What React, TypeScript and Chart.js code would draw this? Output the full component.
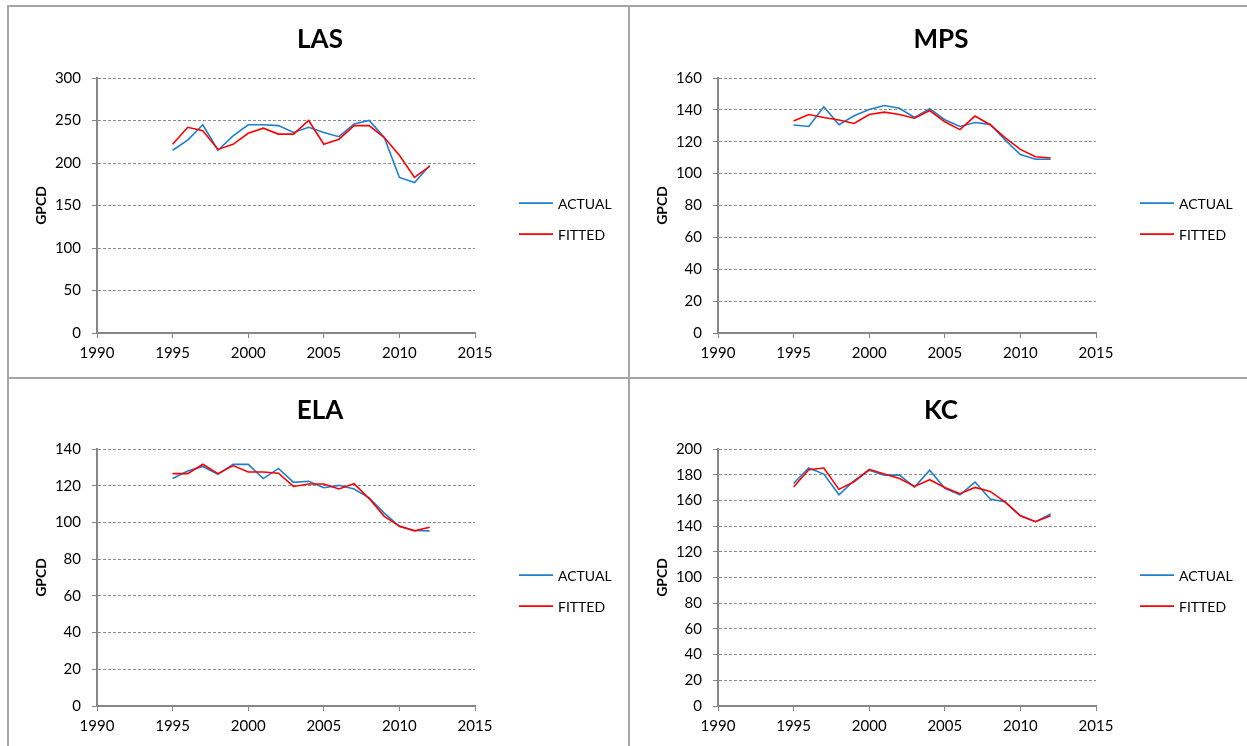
import React, { useEffect, useRef } from "react";
import { Chart, registerables } from "chart.js";

Chart.register(...registerables);

// Years observed in every panel
const YEARS = [1995, 1996, 1997, 1998, 1999, 2000, 2001, 2002, 2003, 2004, 2005, 2006, 2007, 2008, 2009, 2010, 2011, 2012];

// Gallons per capita per day, actual vs. fitted
const LAS_ACTUAL = [215, 227, 245, 215, 232, 245, 245, 244, 236, 242, 236, 231, 246, 250, 230, 183, 177, 197];
const LAS_FITTED = [222, 242, 238, 216, 222, 235, 241, 234, 234, 250, 222, 228, 244, 244, 230, 209, 183, 196];

const MPS_ACTUAL = [130.5, 129.6, 141.9, 130.7, 136.3, 140.2, 142.7, 141, 135.2, 140.8, 133.8, 129.6, 132.1, 130.9, 121, 112, 109, 109];
const MPS_FITTED = [133, 137.1, 135.2, 133.6, 131.5, 137.1, 138.6, 137.1, 134.8, 139.6, 132.5, 127.6, 136.1, 130.7, 122.4, 115.2, 110.6, 109.8];

const ELA_ACTUAL = [123.9, 128, 130.5, 126.2, 131.6, 131.6, 123.9, 129.4, 121.8, 122.4, 118.9, 120.2, 118.2, 113.4, 105.1, 97.8, 95.6, 95.4];
const ELA_FITTED = [126.6, 126.6, 131.7, 126.6, 131, 127.5, 127.5, 126.8, 119.6, 120.9, 120.9, 118.2, 121.1, 113, 103.3, 98, 95.4, 97.4];

const KC_ACTUAL = [173.2, 185.2, 180.5, 164.4, 175.3, 183.4, 179.7, 179.7, 170.4, 183.4, 169.4, 164.4, 174.3, 161, 158.7, 148, 143.4, 149.4];
const KC_FITTED = [170.4, 183.9, 185.2, 168.6, 174.5, 184.2, 180.5, 177.1, 170.9, 176.1, 170.1, 165.2, 170.1, 167, 158.7, 148, 143.4, 148];

const X_MIN = 1990;
const X_MAX = 2015;
const X_STEP = 5;

const FONT = "Lato, 'Open Sans', sans-serif";
const BLUE = "#1F7FCE";
const RED = "#FF0000";
const AXIS = "#878787";
const GRID = "#8C8C8C";
const FRAME = "#A6A6A6";

const CANVAS_W = 620;
const CANVAS_H = 372;
const PLOT_LEFT = 89;
const PLOT_RIGHT = 467;

type PanelProps = {
  title: string;
  actual: number[];
  fitted: number[];
  yMax: number;
  yStep: number;
  left: number;
  top: number;
  plotTop: number;
  plotBottom: number;
};

function Panel({ title, actual, fitted, yMax, yStep, left, top, plotTop, plotBottom }: PanelProps) {
  const ref = useRef<HTMLCanvasElement>(null);

  useEffect(() => {
    if (!ref.current) return;
    const toPoints = (vals: number[]) => YEARS.map((x, i) => ({ x, y: vals[i] }));

    // Panel heading and the series key to the right of the plot
    const panelText = {
      id: "panelText",
      afterDraw(chart: any) {
        const { ctx, chartArea } = chart;
        ctx.save();
        ctx.fillStyle = "#000";
        ctx.font = `bold 26px ${FONT}`;
        ctx.textAlign = "center";
        ctx.textBaseline = "middle";
        ctx.fillText(title, chart.width / 2 + 2, chartArea.top - 38);

        const cy = (chartArea.top + chartArea.bottom) / 2;
        chart.data.datasets.forEach((ds: any, i: number) => {
          const y = Math.round(cy - 3 + i * 31);
          ctx.strokeStyle = ds.borderColor;
          ctx.lineWidth = 1.75;
          ctx.beginPath();
          ctx.moveTo(chartArea.right + 44, y);
          ctx.lineTo(chartArea.right + 78, y);
          ctx.stroke();
          ctx.font = `14px ${FONT}`;
          ctx.textAlign = "left";
          ctx.fillStyle = "#000";
          ctx.fillText(ds.label, chartArea.right + 83, y + 1);
        });
        ctx.restore();
      },
    };

    const chart = new Chart(ref.current, {
      type: "line",
      data: {
        datasets: [
          {
            label: "ACTUAL",
            data: toPoints(actual),
            borderColor: BLUE,
            backgroundColor: BLUE,
            borderWidth: 1.6,
            pointRadius: 0,
            tension: 0,
            order: 1,
          },
          {
            label: "FITTED",
            data: toPoints(fitted),
            borderColor: RED,
            backgroundColor: RED,
            borderWidth: 1.6,
            pointRadius: 0,
            tension: 0,
            order: 0,
          },
        ],
      },
      options: {
        animation: false,
        responsive: false,
        devicePixelRatio: 1,
        layout: {
          padding: { top: plotTop, left: 0, right: CANVAS_W - PLOT_RIGHT, bottom: 0 },
        },
        plugins: {
          legend: { display: false },
          title: { display: false },
          tooltip: { enabled: false },
        },
        scales: {
          x: {
            type: "linear",
            position: "bottom",
            min: X_MIN,
            max: X_MAX,
            ticks: {
              stepSize: X_STEP,
              autoSkip: false,
              maxRotation: 0,
              color: "#000",
              padding: 6,
              font: { family: FONT, size: 15 },
              callback: (v: any) => String(v),
            },
            grid: {
              display: true,
              drawOnChartArea: false,
              drawTicks: true,
              tickLength: 5,
              tickColor: AXIS,
              tickWidth: 1,
            },
            border: { display: true, color: AXIS, width: 2 },
            afterFit: (scale: any) => {
              scale.height = CANVAS_H - plotBottom;
            },
          },
          y: {
            type: "linear",
            min: 0,
            max: yMax,
            ticks: {
              stepSize: yStep,
              color: "#000",
              padding: 11,
              font: { family: FONT, size: 15 },
            },
            grid: {
              color: (c: any) => (c.tick && c.tick.value === 0 ? "rgba(0,0,0,0)" : GRID),
              lineWidth: 1,
              drawTicks: true,
              tickLength: 5,
              tickColor: AXIS,
              tickWidth: 1,
              tickBorderDash: [],
            },
            border: { display: true, color: AXIS, width: 2, dash: [3, 2] },
            title: {
              display: true,
              text: "GPCD",
              color: "#000",
              font: { family: FONT, size: 14, weight: "bold" },
              padding: { top: 25, bottom: 0 },
            },
            afterFit: (scale: any) => {
              scale.width = PLOT_LEFT;
            },
          },
        },
      },
      plugins: [panelText],
    } as any);

    return () => chart.destroy();
  }, [title, actual, fitted, yMax, yStep, plotTop, plotBottom]);

  return (
    <canvas
      ref={ref}
      width={CANVAS_W}
      height={CANVAS_H}
      style={{ position: "absolute", left, top, width: CANVAS_W, height: CANVAS_H }}
    />
  );
}

export default function App() {
  const line = (style: React.CSSProperties) => (
    <div style={{ position: "absolute", background: FRAME, ...style }} />
  );
  return (
    <div
      style={{
        position: "fixed",
        left: 0,
        top: 0,
        width: 1247,
        height: 746,
        overflow: "hidden",
        background: "#fff",
      }}
    >
      <Panel title="LAS" actual={LAS_ACTUAL} fitted={LAS_FITTED} yMax={300} yStep={50} left={8} top={6} plotTop={72} plotBottom={327} />
      <Panel title="MPS" actual={MPS_ACTUAL} fitted={MPS_FITTED} yMax={160} yStep={20} left={629} top={6} plotTop={72} plotBottom={327} />
      <Panel title="ELA" actual={ELA_ACTUAL} fitted={ELA_FITTED} yMax={140} yStep={20} left={8} top={378} plotTop={71} plotBottom={328} />
      <Panel title="KC" actual={KC_ACTUAL} fitted={KC_FITTED} yMax={200} yStep={20} left={629} top={378} plotTop={71} plotBottom={328} />
      {line({ left: 7, top: 5, width: 1240, height: 2 })}
      {line({ left: 7, top: 5, width: 2, height: 741 })}
      {line({ left: 628, top: 5, width: 2, height: 741 })}
      {line({ left: 7, top: 377, width: 1240, height: 2 })}
    </div>
  );
}
